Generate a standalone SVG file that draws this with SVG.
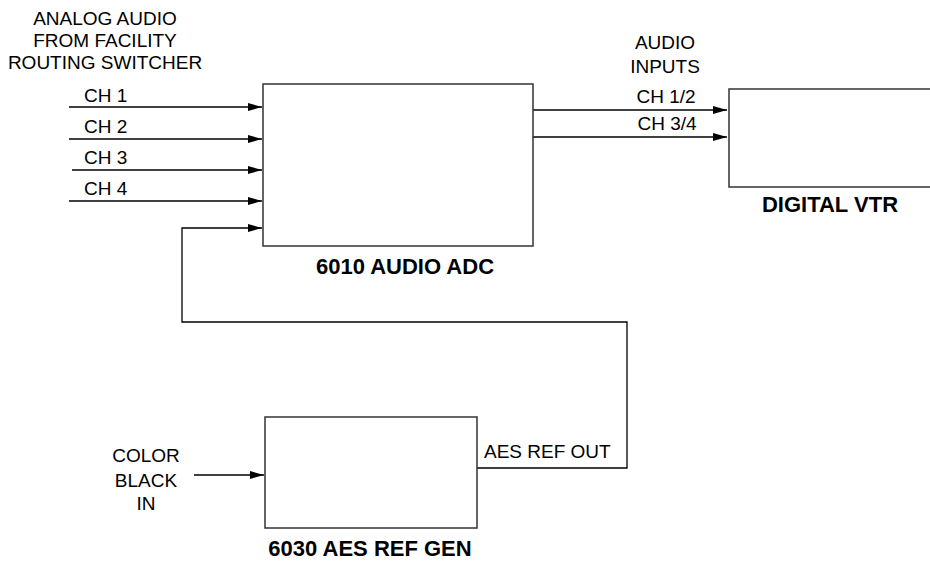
<svg xmlns="http://www.w3.org/2000/svg" width="930" height="561" viewBox="0 0 930 561">
<defs>
<marker id="arr" markerWidth="14" markerHeight="8" refX="14" refY="4" orient="auto" markerUnits="userSpaceOnUse">
<path d="M0,0 L14,4 L0,8 Z" fill="#000"/>
</marker>
<style>
.box{fill:#fff;stroke:#333;stroke-width:1.5}
.ln{fill:none;stroke:#000;stroke-width:1.3}
.t{font-family:"Liberation Sans",Arial,sans-serif;font-size:19px;fill:#000}
.b{font-family:"Liberation Sans",Arial,sans-serif;font-size:22px;font-weight:bold;fill:#000;text-anchor:middle}
.c{text-anchor:middle}
</style>
</defs>
<rect width="930" height="561" fill="#fff"/>
<g id="header">
<text class="t c" x="105" y="25">ANALOG AUDIO</text>
<text class="t c" x="105" y="47">FROM FACILITY</text>
<text class="t c" x="105" y="69">ROUTING SWITCHER</text>
<text class="t c" x="665" y="49">AUDIO</text>
<text class="t c" x="665" y="73">INPUTS</text>
</g>
<g id="connectors">
<line class="ln" x1="69" y1="107" x2="262" y2="107" marker-end="url(#arr)"/>
<line class="ln" x1="69" y1="139" x2="262" y2="139" marker-end="url(#arr)"/>
<line class="ln" x1="72" y1="170" x2="262" y2="170" marker-end="url(#arr)"/>
<line class="ln" x1="69" y1="201" x2="262" y2="201" marker-end="url(#arr)"/>
<polyline class="ln" points="477,468 627,468 627,322 182,322 182,228 262,228" marker-end="url(#arr)"/>
<line class="ln" x1="533" y1="110" x2="727" y2="110" marker-end="url(#arr)"/>
<line class="ln" x1="533" y1="137" x2="727" y2="137" marker-end="url(#arr)"/>
<line class="ln" x1="194" y1="475" x2="264" y2="475" marker-end="url(#arr)"/>
<text class="t" x="84" y="102">CH 1</text>
<text class="t" x="84" y="133">CH 2</text>
<text class="t" x="84" y="164">CH 3</text>
<text class="t" x="84" y="195">CH 4</text>
<text class="t c" x="666" y="103">CH 1/2</text>
<text class="t c" x="667" y="130">CH 3/4</text>
<text class="t" x="484" y="458">AES REF OUT</text>
<text class="t c" x="146" y="462">COLOR</text>
<text class="t c" x="146" y="487">BLACK</text>
<text class="t c" x="146" y="510">IN</text>
</g>
<g id="adc">
<rect class="box" x="263" y="84" width="270" height="162"/>
<text class="b" x="405" y="274">6010 AUDIO ADC</text>
</g>
<g id="vtr">
<rect class="box" x="729" y="89" width="210" height="98"/>
<text class="b" x="830" y="212">DIGITAL VTR</text>
</g>
<g id="refgen">
<rect class="box" x="265" y="417" width="212" height="111"/>
<text class="b" x="370" y="556">6030 AES REF GEN</text>
</g>
</svg>
